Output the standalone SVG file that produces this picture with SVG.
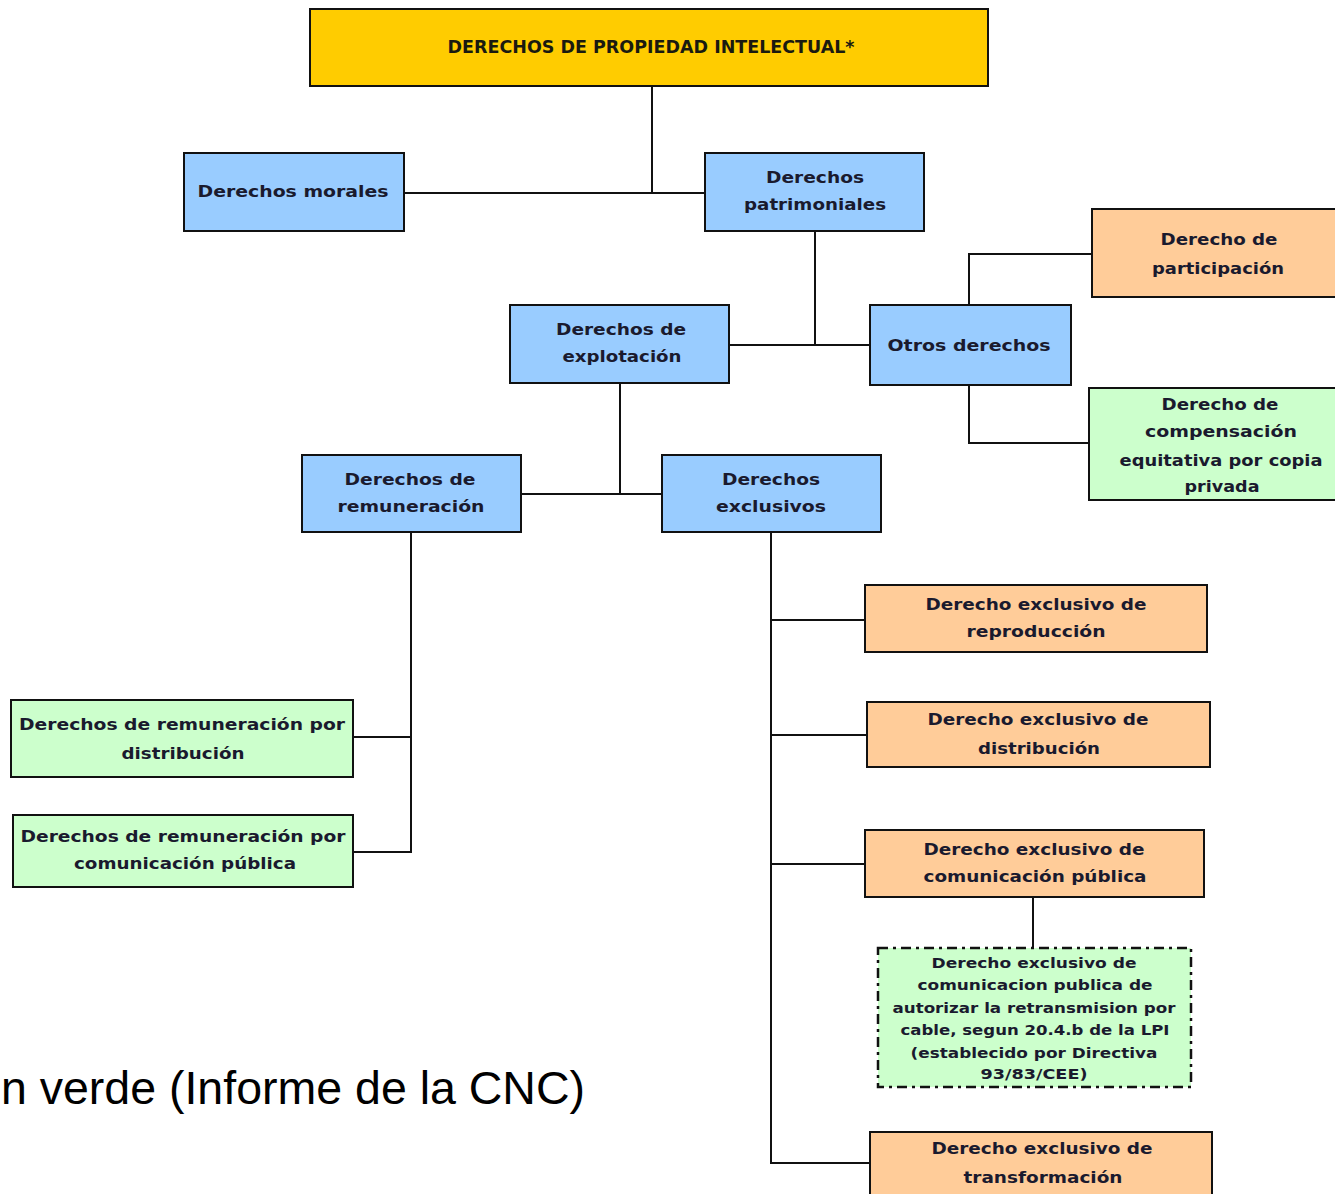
<svg xmlns="http://www.w3.org/2000/svg" width="1335" height="1194" viewBox="0 0 1335 1194">
<style>
.box{stroke:#111;stroke-width:2}
.blue{fill:#99CCFF}
.orange{fill:#FFCC99}
.green{fill:#CCFFCC}
.yellow{fill:#FFCC00}
.dash{fill:#CCFFCC;stroke:#111;stroke-width:2.5;stroke-dasharray:10 5 3 5}
.t{font-family:"DejaVu Sans",sans-serif;font-size:16px;font-weight:bold;fill:#1a1a2e;text-anchor:middle}
.ts{font-family:"DejaVu Sans",sans-serif;font-size:14px;font-weight:bold;fill:#1a1a2e;text-anchor:middle}
.conn line{stroke:#111;stroke-width:2}
</style>
<rect width="1335" height="1194" fill="#fff"/>
<g class="conn">
<line x1="652" y1="86" x2="652" y2="193"/>
<line x1="404" y1="193" x2="705" y2="193"/>
<line x1="815" y1="231" x2="815" y2="345"/>
<line x1="729" y1="345" x2="870" y2="345"/>
<line x1="969" y1="253" x2="969" y2="305"/>
<line x1="968" y1="254" x2="1092" y2="254"/>
<line x1="969" y1="385" x2="969" y2="444"/>
<line x1="968" y1="443" x2="1089" y2="443"/>
<line x1="620" y1="383" x2="620" y2="494"/>
<line x1="521" y1="494" x2="662" y2="494"/>
<line x1="411" y1="532" x2="411" y2="853"/>
<line x1="353" y1="737" x2="412" y2="737"/>
<line x1="353" y1="852" x2="412" y2="852"/>
<line x1="771" y1="532" x2="771" y2="1164"/>
<line x1="770" y1="620" x2="865" y2="620"/>
<line x1="770" y1="735" x2="867" y2="735"/>
<line x1="770" y1="864" x2="865" y2="864"/>
<line x1="770" y1="1163" x2="870" y2="1163"/>
<line x1="1033" y1="897" x2="1033" y2="948"/>
</g>
<g id="n-dpi"><rect class="box yellow" x="310" y="9" width="678" height="77"/><text x="651" y="53" font-family="'DejaVu Sans Condensed','DejaVu Sans',sans-serif" font-size="18" font-weight="bold" fill="#1a1a10" text-anchor="middle" textLength="407" lengthAdjust="spacingAndGlyphs">DERECHOS DE PROPIEDAD INTELECTUAL*</text></g>
<g id="n-morales"><rect class="box blue" x="184" y="153" width="220" height="78"/><text class="t" x="293" y="197" textLength="191" lengthAdjust="spacingAndGlyphs">Derechos morales</text></g>
<g id="n-patrimoniales"><rect class="box blue" x="705" y="153" width="219" height="78"/><text class="t" x="815" y="183" textLength="98" lengthAdjust="spacingAndGlyphs">Derechos</text><text class="t" x="815" y="210" textLength="142" lengthAdjust="spacingAndGlyphs">patrimoniales</text></g>
<g id="n-explotacion"><rect class="box blue" x="510" y="305" width="219" height="78"/><text class="t" x="621" y="335" textLength="130" lengthAdjust="spacingAndGlyphs">Derechos de</text><text class="t" x="622" y="362" textLength="119" lengthAdjust="spacingAndGlyphs">explotación</text></g>
<g id="n-otros"><rect class="box blue" x="870" y="305" width="201" height="80"/><text class="t" x="969" y="351" textLength="163" lengthAdjust="spacingAndGlyphs">Otros derechos</text></g>
<g id="n-participacion"><rect class="box orange" x="1092" y="209" width="250" height="88"/><text class="t" x="1219" y="245" textLength="117" lengthAdjust="spacingAndGlyphs">Derecho de</text><text class="t" x="1218" y="274" textLength="132" lengthAdjust="spacingAndGlyphs">participación</text></g>
<g id="n-compensacion"><rect class="box green" x="1089" y="388" width="253" height="112"/><text class="t" x="1220" y="410" textLength="117" lengthAdjust="spacingAndGlyphs">Derecho de</text><text class="t" x="1221" y="437" textLength="152" lengthAdjust="spacingAndGlyphs">compensación</text><text class="t" x="1221" y="466" textLength="203" lengthAdjust="spacingAndGlyphs">equitativa por copia</text><text class="t" x="1222" y="492" textLength="75" lengthAdjust="spacingAndGlyphs">privada</text></g>
<g id="n-remuneracion"><rect class="box blue" x="302" y="455" width="219" height="77"/><text class="t" x="410" y="485" textLength="131" lengthAdjust="spacingAndGlyphs">Derechos de</text><text class="t" x="411" y="512" textLength="147" lengthAdjust="spacingAndGlyphs">remuneración</text></g>
<g id="n-exclusivos"><rect class="box blue" x="662" y="455" width="219" height="77"/><text class="t" x="771" y="485" textLength="98" lengthAdjust="spacingAndGlyphs">Derechos</text><text class="t" x="771" y="512" textLength="110" lengthAdjust="spacingAndGlyphs">exclusivos</text></g>
<g id="n-reproduccion"><rect class="box orange" x="865" y="585" width="342" height="67"/><text class="t" x="1036" y="610" textLength="221" lengthAdjust="spacingAndGlyphs">Derecho exclusivo de</text><text class="t" x="1036" y="637" textLength="139" lengthAdjust="spacingAndGlyphs">reproducción</text></g>
<g id="n-distribucion"><rect class="box orange" x="867" y="702" width="343" height="65"/><text class="t" x="1038" y="725" textLength="221" lengthAdjust="spacingAndGlyphs">Derecho exclusivo de</text><text class="t" x="1039" y="754" textLength="122" lengthAdjust="spacingAndGlyphs">distribución</text></g>
<g id="n-comunicacion"><rect class="box orange" x="865" y="830" width="339" height="67"/><text class="t" x="1034" y="855" textLength="221" lengthAdjust="spacingAndGlyphs">Derecho exclusivo de</text><text class="t" x="1035" y="882" textLength="223" lengthAdjust="spacingAndGlyphs">comunicación pública</text></g>
<g id="n-retransmision"><rect class="dash" x="878" y="948" width="313" height="139"/><text class="ts" x="1034" y="968" textLength="205" lengthAdjust="spacingAndGlyphs">Derecho exclusivo de</text><text class="ts" x="1035" y="990" textLength="235" lengthAdjust="spacingAndGlyphs">comunicacion publica de</text><text class="ts" x="1034" y="1013" textLength="283" lengthAdjust="spacingAndGlyphs">autorizar la retransmision por</text><text class="ts" x="1035" y="1035" textLength="269" lengthAdjust="spacingAndGlyphs">cable, segun 20.4.b de la LPI</text><text class="ts" x="1034" y="1058" textLength="247" lengthAdjust="spacingAndGlyphs">(establecido por Directiva</text><text class="ts" x="1034" y="1079" textLength="107" lengthAdjust="spacingAndGlyphs">93/83/CEE)</text></g>
<g id="n-transformacion"><rect class="box orange" x="870" y="1132" width="342" height="70"/><text class="t" x="1042" y="1154" textLength="221" lengthAdjust="spacingAndGlyphs">Derecho exclusivo de</text><text class="t" x="1043" y="1183" textLength="159" lengthAdjust="spacingAndGlyphs">transformación</text></g>
<g id="n-rem-distribucion"><rect class="box green" x="11" y="700" width="342" height="77"/><text class="t" x="182" y="730" textLength="326" lengthAdjust="spacingAndGlyphs">Derechos de remuneración por</text><text class="t" x="183" y="759" textLength="123" lengthAdjust="spacingAndGlyphs">distribución</text></g>
<g id="n-rem-comunicacion"><rect class="box green" x="13" y="815" width="340" height="72"/><text class="t" x="183" y="842" textLength="325" lengthAdjust="spacingAndGlyphs">Derechos de remuneración por</text><text class="t" x="185" y="869" textLength="222" lengthAdjust="spacingAndGlyphs">comunicación pública</text></g>
<text x="585" y="1104" font-family="'Liberation Sans',Arial,sans-serif" font-size="46.5" fill="#000" text-anchor="end">n verde (Informe de la CNC)</text>
</svg>
